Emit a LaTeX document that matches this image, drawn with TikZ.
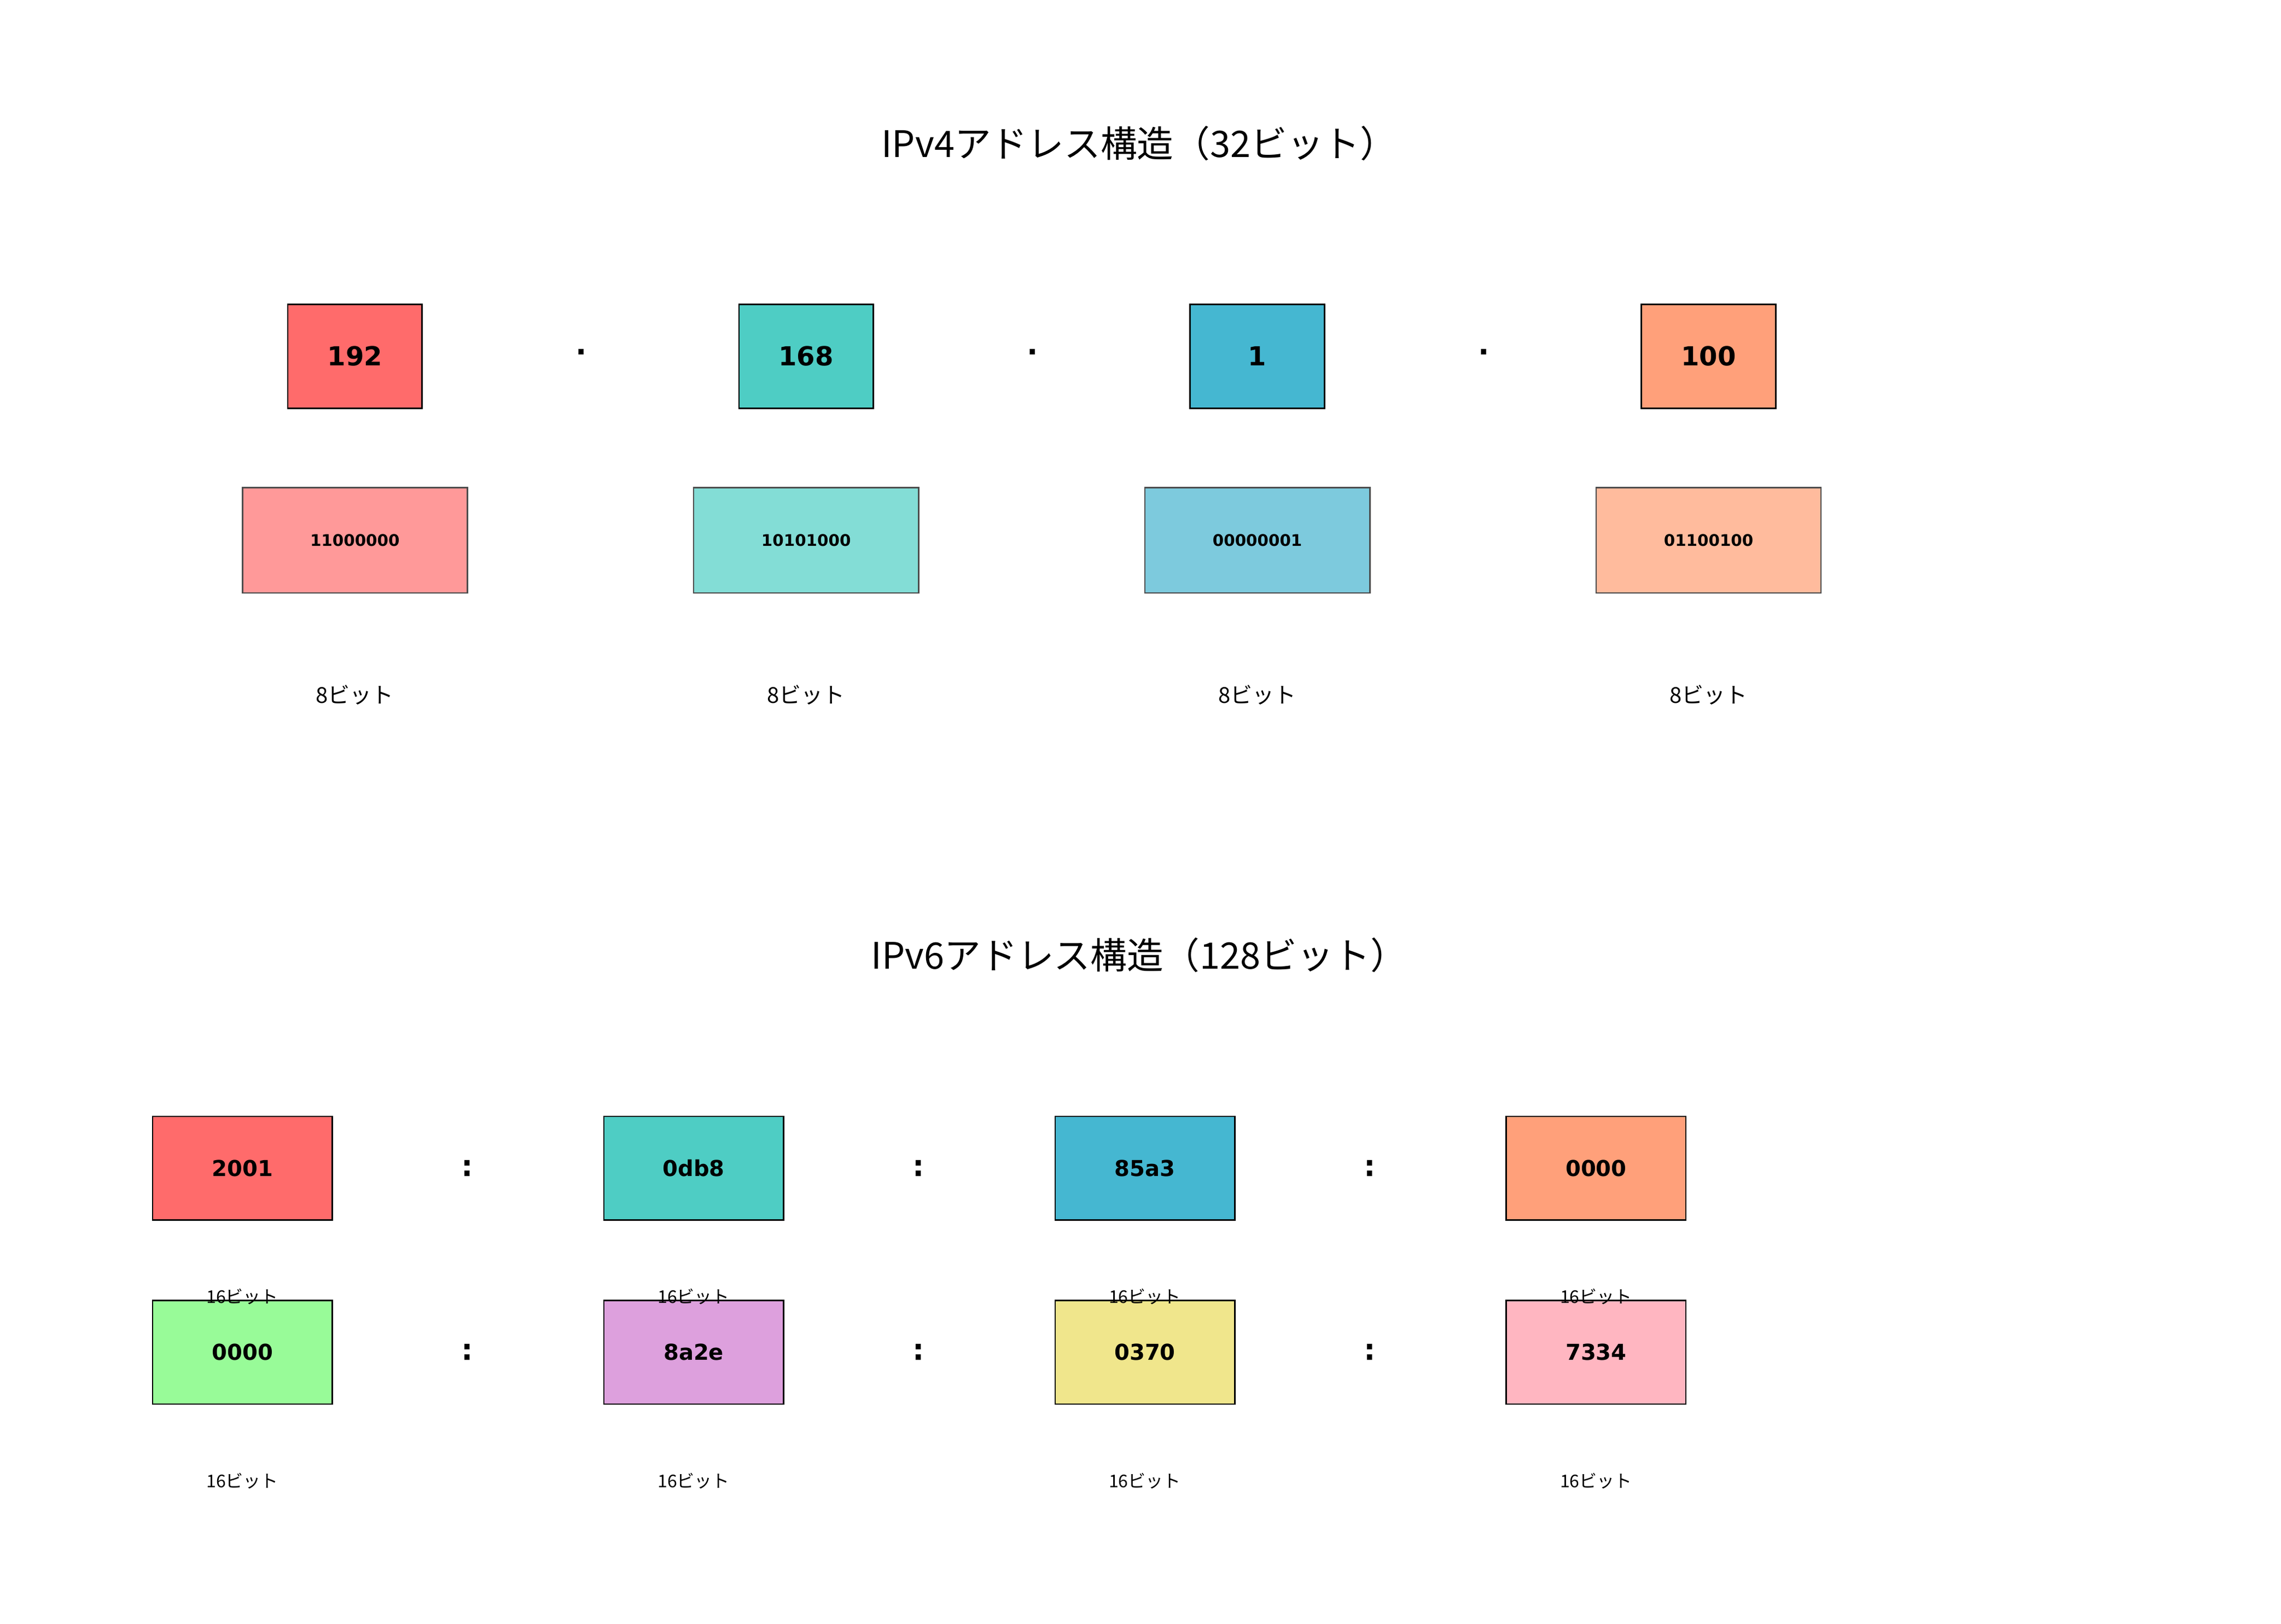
\documentclass[tikz,border=0pt]{standalone}
\usepackage{fontspec}
\setmainfont{DejaVu Sans}
\newfontfamily\jp{Noto Sans CJK JP}
\begin{document}
\begin{tikzpicture}[x=1pt,y=-1pt,
 vbox/.style={draw=black,line width=1pt,minimum width=92pt,minimum height=71pt,inner sep=0pt,font=\fontsize{18}{20}\selectfont\bfseries},
 bbox/.style={draw=black!70,line width=1pt,minimum width=154pt,minimum height=72pt,inner sep=0pt,font=\fontsize{11}{13}\selectfont\bfseries},
 hbox/.style={draw=black,line width=1pt,minimum width=123pt,minimum height=71pt,inner sep=0pt,font=\fontsize{15}{17}\selectfont\bfseries},
 sep/.style={font=\fontsize{20}{22}\selectfont\bfseries},
 lab/.style={font=\jp\fontsize{15}{17}\selectfont},
 slab/.style={font=\jp\fontsize{12}{14}\selectfont},
 ttl/.style={font=\jp\fontsize{25}{28}\selectfont}]
\useasboundingbox (0,0) rectangle (1562,1112);
\node[ttl] (t4) at (780,98) {IPv4アドレス構造（32ビット）};
\definecolor{c1}{HTML}{FF6B6B}\definecolor{c2}{HTML}{4ECDC4}\definecolor{c3}{HTML}{45B7D1}\definecolor{c4}{HTML}{FFA07A}
\definecolor{d1}{HTML}{FF9999}\definecolor{d2}{HTML}{83DDD6}\definecolor{d3}{HTML}{7DCADD}\definecolor{d4}{HTML}{FFBB9D}
\definecolor{e1}{HTML}{98FB98}\definecolor{e2}{HTML}{DDA0DD}\definecolor{e3}{HTML}{F0E68C}\definecolor{e4}{HTML}{FFB6C1}
\foreach \i/\x/\v/\b in {1/243/192/11000000,2/552/168/10101000,3/861/1/00000001,4/1170/100/01100100}{
 \node[vbox,fill=c\i] (v\i) at (\x,244) {\v};
 \node[bbox,fill=d\i] (b\i) at (\x,370) {\b};
 \node[lab] (l\i) at (\x,476) {8ビット};
}
\foreach \x/\n in {398/1,707/2,1016/3}{\node[sep] (dot\n) at (\x,241) {.};}
\node[ttl] (t6) at (780,654) {IPv6アドレス構造（128ビット）};
\foreach \i/\x/\a/\b in {1/166/2001/0000,2/475/0db8/8a2e,3/784/85a3/0370,4/1093/0000/7334}{
 \node[hbox,fill=c\i] (h\i) at (\x,800) {\a};
 \node[hbox,fill=e\i] (k\i) at (\x,926) {\b};
}
\foreach \i/\x in {1/166,2/475,3/784,4/1093}{
 \node[slab] (m\i) at (\x,888) {16ビット};
 \node[slab] (n\i) at (\x,1014) {16ビット};
}
\foreach \x/\n in {320/1,629/2,938/3}{
 \node[sep] (ca\n) at (\x,800) {:};
 \node[sep] (cb\n) at (\x,926) {:};
}
\end{tikzpicture}
\end{document}
